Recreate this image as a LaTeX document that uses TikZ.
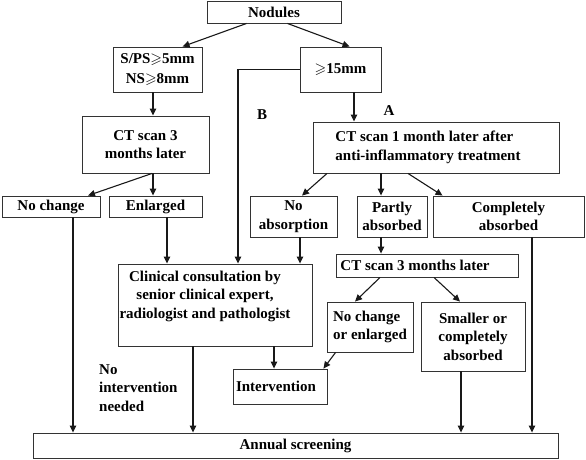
\documentclass[tikz,border=0pt]{standalone}
\usepackage{fontspec}
\usepackage{amssymb}
\setmainfont{Liberation Serif}
\usetikzlibrary{arrows.meta}
\begin{document}
\begin{tikzpicture}[x=1pt,y=-1pt,
  txt/.style={font=\bfseries\fontsize{15}{18.5}\selectfont},
  box/.style={txt, draw=black!80, line width=0.9pt, rectangle, inner sep=0pt, align=center},
  lbl/.style={txt, inner sep=0pt, align=left},
  arr/.style={draw=black!90, line width=1.1pt, -{Triangle[length=7pt,width=6.5pt]}}]
\useasboundingbox (0,0) rectangle (586,459);
% boxes
\node[box, minimum width=134pt, minimum height=22pt] (nod) at (274,12) {Nodules};
\node[box, minimum width=89pt, minimum height=45pt] (sps) at (157.5,69.5) {S/PS$\geqslant$5mm\\[2pt]NS$\geqslant$8mm};
\node[box, minimum width=81pt, minimum height=45pt] (gt) at (340.5,69.5) {$\geqslant$15mm};
\node[box, minimum width=127pt, minimum height=57pt] (ct3) at (145.5,144.5) {CT scan 3\\months later};
\node[box, minimum width=246pt, minimum height=51pt, align=left] (ct1) at (436,147.5) {CT scan 1 month later after\\anti-inflammatory treatment\hspace*{16pt}};
\node[box, minimum width=98pt, minimum height=21pt] (nc) at (51,206.5) {No change};
\node[box, minimum width=93pt, minimum height=21pt] (enl) at (155.5,206.5) {Enlarged};
\node[box, minimum width=87pt, minimum height=41pt] (noab) at (293.5,216.5) {No\\absorption};
\node[box, minimum width=70pt, minimum height=41pt] (part) at (392,216.5) {Partly\\absorbed};
\node[box, minimum width=151pt, minimum height=41pt] (comp) at (508.5,216.5) {Completely\\absorbed};
\node[box, minimum width=194pt, minimum height=82pt,
  label={[lbl, align=center, xshift=-10pt, yshift=9pt]center:{Clinical consultation by\\senior clinical expert,\\radiologist and pathologist}}] (clin) at (215,305) {};
\node[box, minimum width=182pt, minimum height=23pt, align=left] (ct3b) at (427,265.5) {CT scan 3 months later\hspace*{24pt}};
\node[box, minimum width=86pt, minimum height=50pt, align=left] (ncoe) at (370,327) {No change\\or enlarged};
\node[box, minimum width=104pt, minimum height=69pt] (small) at (473,336.5) {Smaller or\\completely\\absorbed};
\node[box, minimum width=94pt, minimum height=35pt] (inter) at (280,386.5) {Intervention\hspace*{8pt}};
\node[box, minimum width=525pt, minimum height=25pt] (ann) at (295.5,445.5) {Annual screening};
% free labels
\node[lbl, anchor=west] (noint) at (99,388) {No\\intervention\\needed};
\node[lbl] (lB) at (262,115) {B};
\node[lbl] (lA) at (389,111) {A};
% connectors
\draw[arr] ([xshift=40pt]nod.south west) -- ([xshift=70pt]sps.north west);
\draw[arr] ([xshift=-54pt]nod.south east) -- ([xshift=50pt]gt.north west);
\draw[arr] ([xshift=-4.5pt]sps.south) -- ([xshift=7.5pt]ct3.north);
\draw[arr] ([xshift=13.5pt]gt.south) -- ([xshift=-82pt]ct1.north);
\draw[arr] (gt.west) -| ([xshift=23pt]clin.north);
\draw[arr] ([xshift=6.5pt]ct3.south) -- ([xshift=37pt]nc.north);
\draw[arr] ([xshift=7.5pt]ct3.south) -- ([xshift=-2.5pt]enl.north);
\draw[arr] ([xshift=22pt]nc.south) -- ([xshift=-222.5pt]ann.north);
\draw[arr] ([xshift=11.5pt]enl.south) -- ([xshift=-48pt]clin.north);
\draw[arr] ([xshift=-109pt]ct1.south) -- ([xshift=8.5pt]noab.north);
\draw[arr] ([xshift=-55pt]ct1.south) -- ([xshift=-11pt]part.north);
\draw[arr] ([xshift=-28pt]ct1.south) -- ([xshift=-66pt]comp.north);
\draw[arr] ([xshift=6.5pt]noab.south) -- ([xshift=85pt]clin.north);
\draw[arr] ([xshift=-11pt]part.south) -- ([xshift=-46pt]ct3b.north);
\draw[arr] ([xshift=23.5pt]comp.south) -- ([xshift=236.5pt]ann.north);
\draw[arr] ([xshift=-47pt]ct3b.south) -- ([xshift=-15pt]ncoe.north);
\draw[arr] ([xshift=7pt]ct3b.south) -- ([xshift=-13pt]small.north);
\draw[arr] ([xshift=59pt]clin.south) -- ([xshift=-6pt]inter.north);
\draw[arr] ([xshift=-22pt]clin.south) -- ([xshift=-102.5pt]ann.north);
\draw[arr] ([xshift=9pt]ncoe.south west) -- ([xshift=-4pt]inter.north east);
\draw[arr] ([xshift=-12pt]small.south) -- ([xshift=165.5pt]ann.north);
\end{tikzpicture}
\end{document}
